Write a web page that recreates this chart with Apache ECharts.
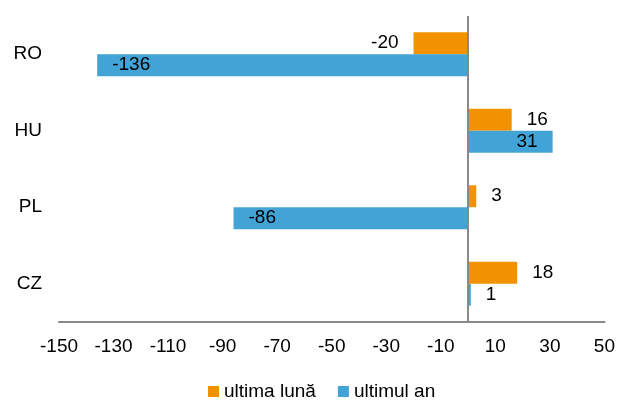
<!DOCTYPE html>
<html>
<head>
<meta charset="utf-8">
<script src="https://cdn.jsdelivr.net/npm/echarts@6/dist/echarts.min.js"></script>
<style>
  html, body { margin: 0; padding: 0; background: #fff; }
  #chart { width: 618px; height: 401px; }
</style>
</head>
<body>
<div id="chart"></div>
<script>
// categories, top to bottom
const countries = ['RO', 'HU', 'PL', 'CZ'];
const lastMonth = [-20, 16, 3, 18];    // ultima lună
const lastYear = [-136, 31, -86, 1];   // ultimul an
const xTicks = [-150, -130, -110, -90, -70, -50, -30, -10, 10, 30, 50];

const font = 'Liberation Sans, Arial, sans-serif';

// label at the outer end of the bar, or inside it when the bar is long
function withLabels(values, inside) {
  return values.map(v => {
    let pos = v < 0 ? 'left' : 'right';
    if (inside && Math.abs(v) > 10) pos = v < 0 ? 'insideLeft' : 'insideRight';
    return { value: v, label: { position: pos } };
  });
}

var mychart = echarts.init(document.getElementById('chart'));
mychart.setOption({
  animation: false,
  textStyle: { fontFamily: font },
  grid: { left: 59, right: 11, top: 16, bottom: 79, containLabel: false },
  legend: {
    left: 203,
    top: 377,
    padding: 5,
    icon: 'rect',
    itemWidth: 11,
    itemHeight: 11,
    itemGap: 22,
    textStyle: { fontSize: 19, color: '#000', fontFamily: font },
    data: ['ultima lună', 'ultimul an']
  },
  xAxis: {
    type: 'value',
    min: -150,
    max: 50,
    axisLine: { show: true, onZero: false, lineStyle: { color: '#898989', width: 2 } },
    axisTick: { show: false },
    splitLine: { show: false },
    axisLabel: {
      customValues: xTicks,
      margin: 15,
      fontSize: 19,
      color: '#000',
      fontFamily: font
    }
  },
  yAxis: {
    type: 'category',
    inverse: true,
    data: countries,
    axisLine: { show: false },
    axisTick: { show: false },
    axisLabel: { margin: 17, fontSize: 19, color: '#000', fontFamily: font }
  },
  series: [
    {
      name: 'ultima lună',
      type: 'bar',
      barWidth: 22,
      barGap: '0%',
      itemStyle: { color: '#F39200' },
      label: { show: true, distance: 15, fontSize: 19, color: '#000', fontFamily: font },
      data: withLabels(lastMonth, false)
    },
    {
      name: 'ultimul an',
      type: 'bar',
      barWidth: 22,
      barGap: '0%',
      itemStyle: { color: '#41A3D6' },
      label: { show: true, distance: 15, fontSize: 19, color: '#000', fontFamily: font },
      data: withLabels(lastYear, true),
      markLine: {
        silent: true,
        symbol: 'none',
        label: { show: false },
        lineStyle: { color: '#898989', width: 2, type: 'solid' },
        data: [{ xAxis: 0 }]
      }
    }
  ]
});
</script>
</body>
</html>
